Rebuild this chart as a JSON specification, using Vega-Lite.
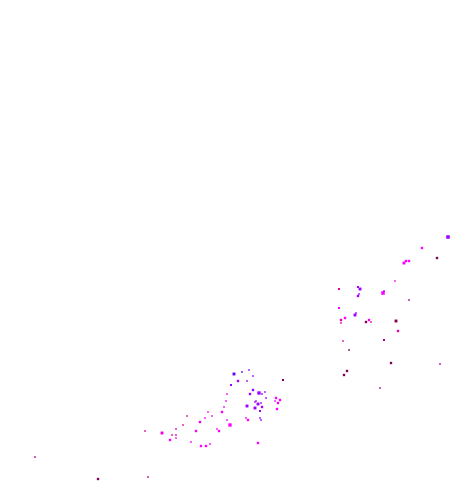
{
  "$schema": "https://vega.github.io/schema/vega-lite/v6.json",
  "autosize": {"type": "fit", "contains": "padding"},
  "width": 465,
  "height": 488,
  "padding": 0,
  "background": "white",
  "config": {"view": {"stroke": null}},
  "data": {"values": [
    {"x": 448, "y": 237, "c": "purple", "s": 9},
    {"x": 422, "y": 248, "c": "magenta", "s": 4},
    {"x": 437, "y": 258, "c": "maroon", "s": 4},
    {"x": 406, "y": 261, "c": "magenta", "s": 4},
    {"x": 409, "y": 261, "c": "magenta", "s": 4},
    {"x": 404, "y": 263, "c": "magenta", "s": 6},
    {"x": 395, "y": 281, "c": "magenta", "s": 2},
    {"x": 339, "y": 289, "c": "pink", "s": 3},
    {"x": 358, "y": 287, "c": "purple", "s": 3},
    {"x": 360, "y": 289, "c": "purple", "s": 6},
    {"x": 359, "y": 294, "c": "purple", "s": 2},
    {"x": 358, "y": 296, "c": "purple", "s": 4},
    {"x": 383, "y": 293, "c": "magenta", "s": 9},
    {"x": 384, "y": 291, "c": "purple", "s": 2},
    {"x": 409, "y": 300, "c": "pinkdark", "s": 2},
    {"x": 339, "y": 308, "c": "magenta", "s": 3},
    {"x": 355, "y": 315, "c": "purple", "s": 6},
    {"x": 356, "y": 313, "c": "purple", "s": 2},
    {"x": 345, "y": 318, "c": "magenta", "s": 4},
    {"x": 341, "y": 320, "c": "pink", "s": 4},
    {"x": 341, "y": 323, "c": "pink", "s": 2},
    {"x": 366, "y": 322, "c": "maroon", "s": 4},
    {"x": 369, "y": 320, "c": "magenta", "s": 4},
    {"x": 371, "y": 322, "c": "pink", "s": 2},
    {"x": 396, "y": 321, "c": "maroon", "s": 6},
    {"x": 398, "y": 331, "c": "pink", "s": 4},
    {"x": 343, "y": 341, "c": "pink", "s": 2},
    {"x": 384, "y": 340, "c": "pinkdark", "s": 3},
    {"x": 349, "y": 350, "c": "maroon", "s": 2},
    {"x": 391, "y": 363, "c": "maroon", "s": 4},
    {"x": 440, "y": 364, "c": "pinkdark", "s": 2},
    {"x": 347, "y": 371, "c": "maroon", "s": 4},
    {"x": 344, "y": 375, "c": "maroon", "s": 4},
    {"x": 380, "y": 388, "c": "pinkdark", "s": 2},
    {"x": 234, "y": 374, "c": "blue", "s": 6},
    {"x": 242, "y": 372, "c": "blue", "s": 2},
    {"x": 249, "y": 370, "c": "purple", "s": 2},
    {"x": 253, "y": 376, "c": "purple", "s": 2},
    {"x": 238, "y": 381, "c": "purple", "s": 4},
    {"x": 247, "y": 381, "c": "purple", "s": 2},
    {"x": 231, "y": 385, "c": "purple", "s": 3},
    {"x": 283, "y": 380, "c": "maroon", "s": 3},
    {"x": 253, "y": 390, "c": "purple", "s": 4},
    {"x": 250, "y": 394, "c": "purple", "s": 4},
    {"x": 259, "y": 393, "c": "purple", "s": 8},
    {"x": 262, "y": 394, "c": "purple", "s": 2},
    {"x": 265, "y": 392, "c": "purple", "s": 2},
    {"x": 227, "y": 394, "c": "magenta", "s": 2},
    {"x": 266, "y": 398, "c": "purple", "s": 2},
    {"x": 256, "y": 401, "c": "purple", "s": 2},
    {"x": 276, "y": 398, "c": "magenta", "s": 4},
    {"x": 275, "y": 401, "c": "magenta", "s": 2},
    {"x": 278, "y": 403, "c": "magenta", "s": 4},
    {"x": 280, "y": 400, "c": "magenta", "s": 4},
    {"x": 226, "y": 401, "c": "magenta", "s": 2},
    {"x": 258, "y": 404, "c": "purple", "s": 6},
    {"x": 255, "y": 402, "c": "purple", "s": 2},
    {"x": 261, "y": 403, "c": "purple", "s": 2},
    {"x": 247, "y": 406, "c": "purple", "s": 6},
    {"x": 262, "y": 407, "c": "purple", "s": 4},
    {"x": 255, "y": 408, "c": "purple", "s": 6},
    {"x": 224, "y": 407, "c": "magenta", "s": 2},
    {"x": 277, "y": 409, "c": "magenta", "s": 4},
    {"x": 260, "y": 411, "c": "purple", "s": 3},
    {"x": 222, "y": 412, "c": "magenta", "s": 4},
    {"x": 208, "y": 412, "c": "magenta", "s": 2},
    {"x": 187, "y": 416, "c": "pink", "s": 2},
    {"x": 212, "y": 416, "c": "magenta", "s": 2},
    {"x": 205, "y": 418, "c": "magenta", "s": 2},
    {"x": 246, "y": 418, "c": "magenta", "s": 2},
    {"x": 248, "y": 420, "c": "magenta", "s": 4},
    {"x": 260, "y": 418, "c": "purple", "s": 2},
    {"x": 261, "y": 420, "c": "purple", "s": 2},
    {"x": 227, "y": 420, "c": "magenta", "s": 2},
    {"x": 200, "y": 422, "c": "pinkmag", "s": 4},
    {"x": 230, "y": 425, "c": "magenta", "s": 8},
    {"x": 183, "y": 425, "c": "pink", "s": 2},
    {"x": 176, "y": 429, "c": "pink", "s": 2},
    {"x": 217, "y": 429, "c": "magenta", "s": 2},
    {"x": 219, "y": 431, "c": "magenta", "s": 4},
    {"x": 196, "y": 431, "c": "magenta", "s": 4},
    {"x": 145, "y": 431, "c": "pink", "s": 2},
    {"x": 162, "y": 433, "c": "pinkmag", "s": 6},
    {"x": 172, "y": 435, "c": "pink", "s": 2},
    {"x": 176, "y": 435, "c": "pink", "s": 2},
    {"x": 176, "y": 438, "c": "magenta", "s": 2},
    {"x": 170, "y": 440, "c": "magenta", "s": 4},
    {"x": 191, "y": 442, "c": "magenta", "s": 2},
    {"x": 258, "y": 443, "c": "magenta", "s": 4},
    {"x": 210, "y": 444, "c": "magenta", "s": 2},
    {"x": 201, "y": 446, "c": "magenta", "s": 4},
    {"x": 206, "y": 446, "c": "magenta", "s": 4},
    {"x": 35, "y": 457, "c": "pinkdark", "s": 2},
    {"x": 98, "y": 479, "c": "maroon", "s": 4},
    {"x": 148, "y": 477, "c": "pinkdark", "s": 2}
  ]},
  "mark": {"type": "point", "shape": "square", "filled": true, "opacity": 1, "strokeWidth": 0},
  "encoding": {
    "x": {"field": "x", "type": "quantitative", "scale": {"domain": [0, 465], "nice": false, "zero": false}, "axis": null},
    "y": {"field": "y", "type": "quantitative", "scale": {"domain": [488, 0], "nice": false, "zero": false}, "axis": null},
    "color": {"field": "c", "type": "nominal", "legend": null,
      "scale": {"domain": ["magenta", "purple", "blue", "pink", "pinkmag", "pinkdark", "maroon"],
                "range": ["#ff00ff", "#a000ff", "#6000ff", "#e000a8", "#f000d0", "#b00080", "#800058"]}},
    "size": {"field": "s", "type": "quantitative", "legend": null, "scale": {"domain": [0, 10], "range": [0, 14], "zero": true, "nice": false}}
  }
}
